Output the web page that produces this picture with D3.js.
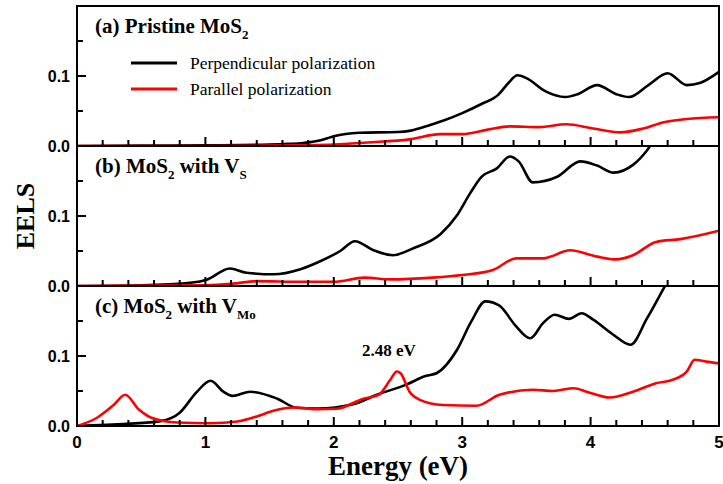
<!DOCTYPE html>
<html>
<head>
<meta charset="utf-8">
<script src="https://cdn.jsdelivr.net/npm/d3@7"></script>
<style>
  html, body { margin: 0; padding: 0; background: #fff; }
  svg { display: block; }
  .tick-lbl { font-family: "Liberation Sans", Arial, sans-serif; font-weight: bold; }
  .serif { font-family: "Liberation Serif", "Times New Roman", serif; }
</style>
</head>
<body>
<div id="chart"></div>
<script>
// Energy (eV) / EELS waarden.
var aPerpE = [0, 0.5, 1.0, 1.5, 1.65, 1.75, 1.87, 1.95, 2.0, 2.2, 2.5, 2.6, 2.75, 2.85, 3.0, 3.15, 3.28, 3.36, 3.43, 3.5, 3.65, 3.8, 3.9, 4.05, 4.2, 4.3, 4.45, 4.6, 4.75, 4.85, 5.0];
var aPerpV = [0, 0.0005, 0.001, 0.002, 0.003, 0.004, 0.007, 0.011, 0.014, 0.019, 0.02, 0.022, 0.03, 0.036, 0.047, 0.06, 0.073, 0.09, 0.101, 0.097, 0.078, 0.07, 0.074, 0.087, 0.074, 0.07, 0.087, 0.104, 0.087, 0.09, 0.106];
var aParE = [0, 1.0, 1.5, 1.74, 2.0, 2.26, 2.59, 2.83, 3.0, 3.19, 3.37, 3.6, 3.81, 4.02, 4.23, 4.41, 4.57, 4.75, 5.0];
var aParV = [0, 0, 0.0005, 0.001, 0.002, 0.005, 0.0095, 0.017, 0.017, 0.023, 0.028, 0.027, 0.031, 0.025, 0.0195, 0.025, 0.034, 0.0386, 0.041];

var bPerpE = [0, 0.5, 0.9, 1.01, 1.19, 1.32, 1.53, 1.74, 1.89, 2.05, 2.165, 2.31, 2.46, 2.62, 2.83, 2.96, 3.06, 3.15, 3.27, 3.37, 3.44, 3.55, 3.74, 3.92, 4.05, 4.18, 4.33, 4.44, 4.5, 4.6, 5.0];
var bPerpV = [0, 0.001, 0.005, 0.009, 0.025, 0.019, 0.0167, 0.024, 0.035, 0.05, 0.064, 0.051, 0.044, 0.054, 0.074, 0.101, 0.132, 0.156, 0.168, 0.185, 0.178, 0.148, 0.156, 0.178, 0.172, 0.162, 0.173, 0.194, 0.21, 0.235, 0.32];
var bParE = [0, 1.0, 1.2, 1.4, 1.74, 2.0, 2.24, 2.44, 2.77, 3.0, 3.24, 3.42, 3.63, 3.84, 4.05, 4.2, 4.33, 4.51, 4.7, 5.0];
var bParV = [0, 0.001, 0.003, 0.007, 0.006, 0.006, 0.012, 0.0095, 0.012, 0.0157, 0.023, 0.0395, 0.0395, 0.051, 0.042, 0.038, 0.044, 0.063, 0.067, 0.079];

var cPerpE = [0, 0.39, 0.65, 0.8, 0.93, 1.04, 1.14, 1.21, 1.35, 1.56, 1.71, 1.87, 2.15, 2.34, 2.55, 2.72, 2.8, 2.96, 3.07, 3.18, 3.29, 3.41, 3.53, 3.63, 3.72, 3.83, 3.93, 4.02, 4.18, 4.31, 4.44, 4.57, 4.7, 5.0];
var cPerpV = [0, 0.003, 0.007, 0.019, 0.048, 0.0646, 0.049, 0.043, 0.049, 0.039, 0.026, 0.025, 0.031, 0.045, 0.058, 0.0717, 0.0754, 0.109, 0.149, 0.178, 0.172, 0.1446, 0.1254, 0.147, 0.159, 0.153, 0.161, 0.152, 0.13, 0.116, 0.154, 0.197, 0.24, 0.33];
var cParE = [0, 0.156, 0.286, 0.376, 0.48, 0.58, 0.78, 1.04, 1.25, 1.4, 1.53, 1.69, 1.87, 2.02, 2.23, 2.35, 2.44, 2.49, 2.52, 2.59, 2.67, 2.85, 3.11, 3.29, 3.55, 3.71, 3.87, 3.97, 4.15, 4.33, 4.51, 4.64, 4.75, 4.81, 4.9, 5.0];
var cParV = [0, 0.0118, 0.03, 0.0446, 0.0239, 0.0118, 0.005, 0.004, 0.0064, 0.0136, 0.0217, 0.0264, 0.024, 0.0246, 0.039, 0.0446, 0.066, 0.0779, 0.0754, 0.049, 0.0374, 0.03, 0.0289, 0.0446, 0.0517, 0.05, 0.054, 0.049, 0.0407, 0.049, 0.061, 0.066, 0.078, 0.0946, 0.092, 0.0895];

var xTickLabels = ['0', '1', '2', '3', '4', '5'];
var yTickLabels = ['0.0', '0.1'];
var legendLabels = ['Perpendicular polarization', 'Parallel polarization'];
var seriesColors = ['#000000', '#ff0000'];

var W = 723, H = 484;
var LEFT = 77, RIGHT = 719;
var PANEL_TOP = 6, PANEL_H = 140;

var svg = d3.select('#chart').append('svg').attr('width', W).attr('height', H);

var x = d3.scaleLinear().domain([0, 5]).range([LEFT, RIGHT]);

function zip(es, vs) {
    return es.map(function (e, i) { return [e, vs[i]]; });
}

function isMajor(d, step) {
    return Math.abs(d / step - Math.round(d / step)) < 1e-6;
}

var panels = [
    { perp: zip(aPerpE, aPerpV), par: zip(aParE, aParV), label: ['(a) Pristine MoS', '2', '', ''] },
    { perp: zip(bPerpE, bPerpV), par: zip(bParE, bParV), label: ['(b) MoS', '2', ' with V', 'S'] },
    { perp: zip(cPerpE, cPerpV), par: zip(cParE, cParV), label: ['(c) MoS', '2', ' with V', 'Mo'] }
];

panels.forEach(function (p, i) {
    var top = PANEL_TOP + i * PANEL_H;
    var bottom = top + PANEL_H;
    var y = d3.scaleLinear().domain([0, 0.2]).range([bottom, top]);
    var g = svg.append('g');

    var clipId = 'clip' + i;
    svg.append('clipPath').attr('id', clipId)
        .append('rect').attr('x', LEFT).attr('y', top).attr('width', RIGHT - LEFT).attr('height', PANEL_H);

    var line = d3.line()
        .x(function (d) { return x(d[0]); })
        .y(function (d) { return y(d[1]); })
        .curve(d3.curveMonotoneX);

    var lines = g.append('g').attr('clip-path', 'url(#' + clipId + ')');
    lines.append('path').datum(p.perp).attr('d', line)
        .attr('fill', 'none').attr('stroke', seriesColors[0]).attr('stroke-width', 2.6);
    lines.append('path').datum(p.par).attr('d', line)
        .attr('fill', 'none').attr('stroke', seriesColors[1]).attr('stroke-width', 2.6);

    // x-ticks naar binnen (omhoog), onderkant van elk paneel
    g.append('g').selectAll('line.xt')
        .data(d3.range(0, 26).map(function (k) { return k * 0.2; }))
        .join('line')
        .attr('class', 'xt')
        .attr('x1', function (d) { return x(d); })
        .attr('x2', function (d) { return x(d); })
        .attr('y1', bottom)
        .attr('y2', function (d) { return bottom - (isMajor(d, 1) ? 9 : 6); })
        .attr('stroke', '#000').attr('stroke-width', 2);

    // y-ticks naar binnen (rechts)
    g.append('g').selectAll('line.yt')
        .data([0.05, 0.1, 0.15])
        .join('line')
        .attr('class', 'yt')
        .attr('x1', LEFT)
        .attr('x2', function (d) { return LEFT + (isMajor(d, 0.1) ? 9 : 6); })
        .attr('y1', function (d) { return y(d); })
        .attr('y2', function (d) { return y(d); })
        .attr('stroke', '#000').attr('stroke-width', 2);

    yTickLabels.forEach(function (t) {
        g.append('text').attr('class', 'tick-lbl')
            .attr('x', 70).attr('y', y(+t) + 6)
            .attr('text-anchor', 'end').attr('font-size', 16)
            .text(t);
    });

    g.append('rect').attr('x', LEFT).attr('y', top).attr('width', RIGHT - LEFT).attr('height', PANEL_H)
        .attr('fill', 'none').attr('stroke', '#000').attr('stroke-width', 2);

    var lbl = g.append('text').attr('class', 'serif')
        .attr('x', 95).attr('y', top + 27)
        .attr('font-size', 21).attr('font-weight', 'bold');
    lbl.append('tspan').text(p.label[0]);
    lbl.append('tspan').attr('font-size', 13).attr('dy', 6).text(p.label[1]);
    if (p.label[2]) {
        lbl.append('tspan').attr('dy', -6).text(p.label[2]);
        lbl.append('tspan').attr('font-size', 13).attr('dy', 6).text(p.label[3]);
    }

    if (i === 0) {
        legendLabels.forEach(function (t, k) {
            var ly = 63 + k * 26;
            g.append('line').attr('x1', 131).attr('x2', 177).attr('y1', ly).attr('y2', ly)
                .attr('stroke', seriesColors[k]).attr('stroke-width', 3);
            g.append('text').attr('class', 'serif')
                .attr('x', 190).attr('y', ly + 6).attr('font-size', 17.5)
                .text(t);
        });
    }

    if (i === 2) {
        g.append('text').attr('class', 'serif')
            .attr('x', 389).attr('y', y(0.1))
            .attr('text-anchor', 'middle').attr('font-size', 17).attr('font-weight', 'bold')
            .text('2.48 eV');
        xTickLabels.forEach(function (t) {
            g.append('text').attr('class', 'tick-lbl')
                .attr('x', x(+t)).attr('y', bottom + 22)
                .attr('text-anchor', 'middle').attr('font-size', 17)
                .text(t);
        });
    }
});

svg.append('text').attr('class', 'serif')
    .attr('x', 398).attr('y', 475)
    .attr('text-anchor', 'middle').attr('font-size', 27).attr('font-weight', 'bold')
    .text('Energy (eV)');

svg.append('text').attr('class', 'serif')
    .attr('transform', 'translate(34,216) rotate(-90)')
    .attr('text-anchor', 'middle').attr('font-size', 26).attr('font-weight', 'bold')
    .text('EELS');
</script>
</body>
</html>
